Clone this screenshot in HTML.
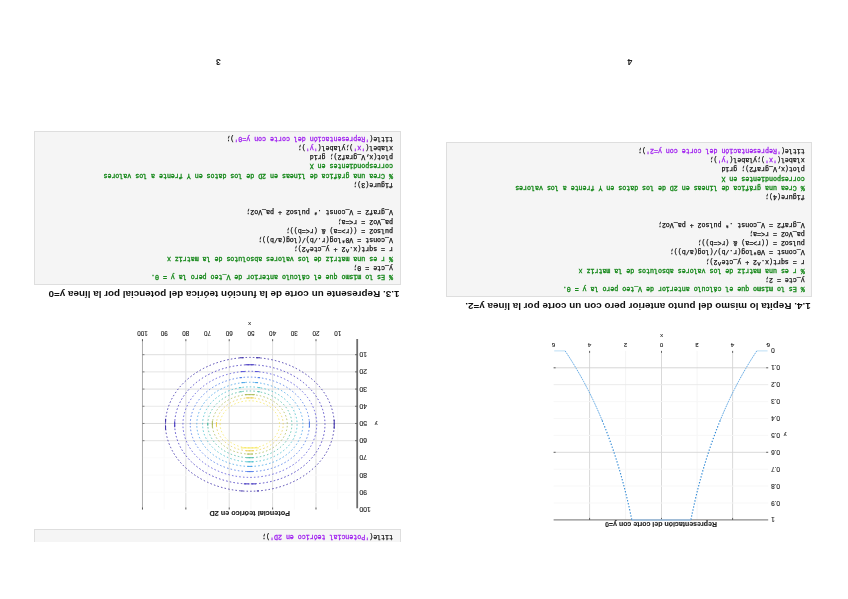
<!DOCTYPE html>
<html lang="es"><head><meta charset="utf-8"><title>Práctica</title>
<style>
html,body{margin:0;padding:0;background:#fff;}
body{width:848px;height:599px;overflow:hidden;position:relative;}
#wrap{position:absolute;left:0;top:0;width:848px;height:599px;transform:rotate(180deg);transform-origin:424px 299.5px;overflow:hidden;}
.abs{position:absolute;}
pre.code{position:absolute;margin:0;box-sizing:border-box;border:1px solid #dedede;background:#f5f5f5;
 font-family:"Liberation Mono",monospace;font-size:6.62px;line-height:9.22px;color:#111;-webkit-text-stroke:0.25px #111;padding:2.7px 0 0 6.6px;white-space:pre;overflow:hidden;}
pre.code .c{color:#1a8a1e;-webkit-text-stroke:0.34px #1a8a1e;}
pre.code .s{color:#a020f0;-webkit-text-stroke:0.28px #a020f0;}
h2{position:absolute;margin:0;font-family:"Liberation Sans",sans-serif;font-weight:bold;color:#111;white-space:nowrap;line-height:1;}
.pn{position:absolute;font-family:"Liberation Sans",sans-serif;font-weight:bold;font-size:8.6px;line-height:1;color:#222;}
svg{position:absolute;left:0;top:0;overflow:visible;}
svg text{font-family:"Liberation Sans",sans-serif;fill:#1c1c1c;stroke:#1c1c1c;stroke-width:0.12px;}
</style></head><body><div id="wrap">

<div class="pn" style="left:619.7px;top:533.3px;width:20px;text-align:center;">3</div>
<div class="pn" style="left:208.1px;top:533.3px;width:20px;text-align:center;">4</div>
<pre class="code" style="left:35.7px;top:302.0px;width:366.6px;height:154.5px;"><span class="c">% Es lo mismo que el cálculo anterior de V_teo pero la y = 0.</span>
y_cte = 2;
<span class="c">% r es una matriz de los valores absolutos de la matriz x</span>
r = sqrt(x.^2 + y_cte^2);
V_const = V0*log(r./b)/(log(a/b));
pulso2 = ((r&gt;=a) &amp; (r&lt;=b));
pa_Vo2 = r&lt;=a;
V_graf2 = V_const .* pulso2 + pa_Vo2;


figure(4);
<span class="c">% Crea una gráfica de líneas en 2D de los datos en Y frente a los valores</span>
<span class="c">correspondientes en X</span>
plot(x,V_graf2); grid
xlabel(<span class="s">'x'</span>);ylabel(<span class="s">'y'</span>);
title(<span class="s">'Representación del corte con y=2'</span>);</pre>
<pre class="code" style="left:447.4px;top:314.3px;width:366.9px;height:153.9px;"><span class="c">% Es lo mismo que el cálculo anterior de V_teo pero la y = 0.</span>
y_cte = 0;
<span class="c">% r es una matriz de los valores absolutos de la matriz x</span>
r = sqrt(x.^2 + y_cte^2);
V_const = V0*log(r./b)/(log(a/b));
pulso2 = ((r&gt;=a) &amp; (r&lt;=b));
pa_Vo2 = r&lt;=a;
V_graf2 = V_const .* pulso2 + pa_Vo2;


figure(3);
<span class="c">% Crea una gráfica de líneas en 2D de los datos en Y frente a los valores</span>
<span class="c">correspondientes en X</span>
plot(x,V_graf2); grid
xlabel(<span class="s">'x'</span>);ylabel(<span class="s">'y'</span>);
title(<span class="s">'Representación del corte con y=0'</span>);</pre>
<pre class="code" style="left:447.4px;top:56.9px;width:366.9px;height:13.5px;border-top:none;padding-top:1.2px;">title(<span class="s">'Potencial teórico en 2D'</span>);</pre>
<h2 style="left:37.3px;top:287.7px;font-size:9.90px;">1.4. Repita lo mismo del punto anterior pero con un corte por la línea y=2.</h2>
<h2 style="left:448.6px;top:299.9px;font-size:9.90px;">1.3. Represente un corte de la función teórica del potencial por la línea y=0</h2>
<svg width="848" height="599" viewBox="0 0 848 599">
<line x1="510.32" y1="259.80" x2="510.32" y2="89.52" stroke="#f7f7f7" stroke-width="0.80" />
<line x1="532.01" y1="259.80" x2="532.01" y2="89.52" stroke="#d6d6d6" stroke-width="0.80" />
<line x1="553.70" y1="259.80" x2="553.70" y2="89.52" stroke="#f7f7f7" stroke-width="0.80" />
<line x1="575.39" y1="259.80" x2="575.39" y2="89.52" stroke="#d6d6d6" stroke-width="0.80" />
<line x1="597.08" y1="259.80" x2="597.08" y2="89.52" stroke="#f7f7f7" stroke-width="0.80" />
<line x1="618.77" y1="259.80" x2="618.77" y2="89.52" stroke="#d6d6d6" stroke-width="0.80" />
<line x1="640.46" y1="259.80" x2="640.46" y2="89.52" stroke="#f7f7f7" stroke-width="0.80" />
<line x1="662.15" y1="259.80" x2="662.15" y2="89.52" stroke="#d6d6d6" stroke-width="0.80" />
<line x1="683.84" y1="259.80" x2="683.84" y2="89.52" stroke="#f7f7f7" stroke-width="0.80" />
<line x1="705.53" y1="259.80" x2="705.53" y2="89.52" stroke="#d6d6d6" stroke-width="0.80" />
<line x1="705.53" y1="244.32" x2="490.80" y2="244.32" stroke="#dadada" stroke-width="0.90" />
<line x1="705.53" y1="227.12" x2="490.80" y2="227.12" stroke="#e2e2e2" stroke-width="0.90" />
<line x1="705.53" y1="209.92" x2="490.80" y2="209.92" stroke="#dadada" stroke-width="0.90" />
<line x1="705.53" y1="192.72" x2="490.80" y2="192.72" stroke="#e6e6e6" stroke-width="0.90" />
<line x1="705.53" y1="175.52" x2="490.80" y2="175.52" stroke="#d6d6d6" stroke-width="0.90" />
<line x1="705.53" y1="158.32" x2="490.80" y2="158.32" stroke="#e0e0e0" stroke-width="0.90" />
<line x1="705.53" y1="141.12" x2="490.80" y2="141.12" stroke="#fafafa" stroke-width="0.90" />
<line x1="705.53" y1="123.92" x2="490.80" y2="123.92" stroke="#fafafa" stroke-width="0.90" />
<line x1="705.53" y1="106.72" x2="490.80" y2="106.72" stroke="#fafafa" stroke-width="0.90" />
<line x1="490.80" y1="260.00" x2="490.80" y2="90.72" stroke="#6e6e6e" stroke-width="1.80" />
<line x1="705.53" y1="259.80" x2="705.53" y2="89.52" stroke="#9a9a9a" stroke-width="0.70" />
<line x1="493.00" y1="244.32" x2="490.80" y2="244.32" stroke="#555" stroke-width="0.80" />
<line x1="705.53" y1="244.32" x2="703.53" y2="244.32" stroke="#555" stroke-width="0.70" />
<line x1="493.00" y1="227.12" x2="490.80" y2="227.12" stroke="#555" stroke-width="0.80" />
<line x1="705.53" y1="227.12" x2="703.53" y2="227.12" stroke="#555" stroke-width="0.70" />
<line x1="493.00" y1="209.92" x2="490.80" y2="209.92" stroke="#555" stroke-width="0.80" />
<line x1="705.53" y1="209.92" x2="703.53" y2="209.92" stroke="#555" stroke-width="0.70" />
<line x1="493.00" y1="192.72" x2="490.80" y2="192.72" stroke="#555" stroke-width="0.80" />
<line x1="705.53" y1="192.72" x2="703.53" y2="192.72" stroke="#555" stroke-width="0.70" />
<line x1="493.00" y1="175.52" x2="490.80" y2="175.52" stroke="#555" stroke-width="0.80" />
<line x1="705.53" y1="175.52" x2="703.53" y2="175.52" stroke="#555" stroke-width="0.70" />
<line x1="493.00" y1="158.32" x2="490.80" y2="158.32" stroke="#555" stroke-width="0.80" />
<line x1="705.53" y1="158.32" x2="703.53" y2="158.32" stroke="#555" stroke-width="0.70" />
<line x1="532.01" y1="259.80" x2="532.01" y2="257.80" stroke="#444" stroke-width="0.80" />
<line x1="532.01" y1="91.52" x2="532.01" y2="89.52" stroke="#444" stroke-width="0.80" />
<line x1="575.39" y1="259.80" x2="575.39" y2="257.80" stroke="#444" stroke-width="0.80" />
<line x1="575.39" y1="91.52" x2="575.39" y2="89.52" stroke="#444" stroke-width="0.80" />
<line x1="618.77" y1="259.80" x2="618.77" y2="257.80" stroke="#444" stroke-width="0.80" />
<line x1="618.77" y1="91.52" x2="618.77" y2="89.52" stroke="#444" stroke-width="0.80" />
<line x1="662.15" y1="259.80" x2="662.15" y2="257.80" stroke="#444" stroke-width="0.80" />
<line x1="662.15" y1="91.52" x2="662.15" y2="89.52" stroke="#444" stroke-width="0.80" />
<line x1="705.53" y1="259.80" x2="705.53" y2="257.80" stroke="#444" stroke-width="0.80" />
<line x1="705.53" y1="91.52" x2="705.53" y2="89.52" stroke="#444" stroke-width="0.80" />
<text x="510.32" y="266.00" font-size="6.30" text-anchor="middle" font-weight="normal" fill="#6a6a6a" dominant-baseline="central">10</text>
<text x="488.70" y="244.32" font-size="6.9" text-anchor="end" dominant-baseline="central">10</text>
<text x="532.01" y="266.00" font-size="6.30" text-anchor="middle" font-weight="normal" fill="#1c1c1c" dominant-baseline="central">20</text>
<text x="488.70" y="227.12" font-size="6.9" text-anchor="end" dominant-baseline="central">20</text>
<text x="553.70" y="266.00" font-size="6.30" text-anchor="middle" font-weight="normal" fill="#6a6a6a" dominant-baseline="central">30</text>
<text x="488.70" y="209.92" font-size="6.9" text-anchor="end" dominant-baseline="central">30</text>
<text x="575.39" y="266.00" font-size="6.30" text-anchor="middle" font-weight="normal" fill="#1c1c1c" dominant-baseline="central">40</text>
<text x="488.70" y="192.72" font-size="6.9" text-anchor="end" dominant-baseline="central">40</text>
<text x="597.08" y="266.00" font-size="6.30" text-anchor="middle" font-weight="normal" fill="#6a6a6a" dominant-baseline="central">50</text>
<text x="488.70" y="175.52" font-size="6.9" text-anchor="end" dominant-baseline="central">50</text>
<text x="618.77" y="266.00" font-size="6.30" text-anchor="middle" font-weight="normal" fill="#1c1c1c" dominant-baseline="central">60</text>
<text x="488.70" y="158.32" font-size="6.9" text-anchor="end" dominant-baseline="central">60</text>
<text x="640.46" y="266.00" font-size="6.30" text-anchor="middle" font-weight="normal" fill="#6a6a6a" dominant-baseline="central">70</text>
<text x="488.70" y="141.12" font-size="6.9" text-anchor="end" dominant-baseline="central">70</text>
<text x="662.15" y="266.00" font-size="6.30" text-anchor="middle" font-weight="normal" fill="#1c1c1c" dominant-baseline="central">80</text>
<text x="488.70" y="123.92" font-size="6.9" text-anchor="end" dominant-baseline="central">80</text>
<text x="683.84" y="266.00" font-size="6.30" text-anchor="middle" font-weight="normal" fill="#6a6a6a" dominant-baseline="central">90</text>
<text x="488.70" y="106.72" font-size="6.9" text-anchor="end" dominant-baseline="central">90</text>
<text x="705.53" y="266.00" font-size="6.30" text-anchor="middle" font-weight="normal" fill="#1c1c1c" dominant-baseline="central">100</text>
<text x="488.70" y="89.52" font-size="6.9" text-anchor="end" dominant-baseline="central">100</text>
<text x="598.40" y="274.80" font-size="5.60" text-anchor="middle" font-weight="normal" fill="#333" dominant-baseline="central">x</text>
<text x="472.00" y="175.10" font-size="5.60" text-anchor="middle" font-weight="normal" fill="#333" dominant-baseline="central">y</text>
<text x="598.30" y="86.00" font-size="7.30" text-anchor="middle" font-weight="bold" fill="#222" dominant-baseline="central">Potencial teórico en 2D</text>
<ellipse cx="598.17" cy="174.66" rx="84.37" ry="66.91" fill="none" stroke="#3d2fa8" stroke-width="0.9" stroke-dasharray="1.5 2.2" opacity="1.00"/>
<line x1="608.37" y1="241.25" x2="604.37" y2="241.25" stroke="#3d2fa8" stroke-width="1.05" opacity="1.00"/>
<line x1="591.97" y1="241.25" x2="587.97" y2="241.25" stroke="#3d2fa8" stroke-width="1.05" opacity="1.00"/>
<line x1="607.17" y1="108.05" x2="605.17" y2="108.05" stroke="#3d2fa8" stroke-width="1.05" opacity="1.00"/>
<line x1="591.17" y1="108.05" x2="589.17" y2="108.05" stroke="#3d2fa8" stroke-width="1.05" opacity="1.00"/>
<line x1="682.42" y1="180.16" x2="682.42" y2="176.16" stroke="#3d2fa8" stroke-width="1.05" opacity="1.00"/>
<line x1="682.42" y1="173.16" x2="682.42" y2="169.16" stroke="#3d2fa8" stroke-width="1.05" opacity="1.00"/>
<line x1="513.79" y1="179.16" x2="513.79" y2="170.16" stroke="#3d2fa8" stroke-width="1.05" opacity="1.00"/>
<ellipse cx="598.17" cy="174.66" rx="75.14" ry="59.58" fill="none" stroke="#4538c0" stroke-width="0.9" stroke-dasharray="1.5 2.2" opacity="1.00"/>
<line x1="602.67" y1="234.24" x2="593.67" y2="234.24" stroke="#4538c0" stroke-width="1.05" opacity="1.00"/>
<line x1="604.17" y1="115.14" x2="599.17" y2="115.14" stroke="#4538c0" stroke-width="1.05" opacity="1.00"/>
<line x1="597.17" y1="115.14" x2="592.17" y2="115.14" stroke="#4538c0" stroke-width="1.05" opacity="1.00"/>
<line x1="673.30" y1="177.66" x2="673.30" y2="171.66" stroke="#4538c0" stroke-width="1.05" opacity="1.00"/>
<ellipse cx="598.17" cy="174.66" rx="66.91" ry="53.06" fill="none" stroke="#5550d8" stroke-width="0.9" stroke-dasharray="1.5 2.2" opacity="0.95"/>
<line x1="607.17" y1="227.43" x2="603.17" y2="227.43" stroke="#5550d8" stroke-width="1.05" opacity="0.95"/>
<line x1="593.17" y1="227.43" x2="589.17" y2="227.43" stroke="#5550d8" stroke-width="1.05" opacity="0.95"/>
<ellipse cx="598.17" cy="174.66" rx="59.58" ry="47.25" fill="none" stroke="#4a78e8" stroke-width="0.9" stroke-dasharray="1.5 2.2" opacity="0.95"/>
<line x1="608.42" y1="221.37" x2="605.92" y2="221.37" stroke="#4a78e8" stroke-width="1.05" opacity="0.95"/>
<line x1="590.42" y1="221.37" x2="587.92" y2="221.37" stroke="#4a78e8" stroke-width="1.05" opacity="0.95"/>
<line x1="601.17" y1="127.41" x2="595.17" y2="127.41" stroke="#4a78e8" stroke-width="1.05" opacity="0.95"/>
<line x1="538.58" y1="177.66" x2="538.58" y2="171.66" stroke="#4a78e8" stroke-width="1.05" opacity="0.95"/>
<ellipse cx="598.17" cy="174.66" rx="53.06" ry="42.07" fill="none" stroke="#3fa0e8" stroke-width="0.9" stroke-dasharray="1.5 2.2" opacity="0.90"/>
<line x1="606.42" y1="216.42" x2="602.92" y2="216.42" stroke="#3fa0e8" stroke-width="1.05" opacity="0.90"/>
<line x1="593.42" y1="216.42" x2="589.92" y2="216.42" stroke="#3fa0e8" stroke-width="1.05" opacity="0.90"/>
<line x1="600.67" y1="132.59" x2="595.67" y2="132.59" stroke="#3fa0e8" stroke-width="1.05" opacity="0.90"/>
<ellipse cx="598.17" cy="174.66" rx="47.25" ry="37.47" fill="none" stroke="#35b8c8" stroke-width="0.9" stroke-dasharray="1.5 2.2" opacity="0.85"/>
<line x1="608.67" y1="211.36" x2="606.67" y2="211.36" stroke="#35b8c8" stroke-width="1.05" opacity="0.85"/>
<line x1="589.67" y1="211.36" x2="587.67" y2="211.36" stroke="#35b8c8" stroke-width="1.05" opacity="0.85"/>
<line x1="601.67" y1="137.19" x2="594.67" y2="137.19" stroke="#35b8c8" stroke-width="1.05" opacity="0.85"/>
<ellipse cx="598.17" cy="174.66" rx="42.07" ry="33.36" fill="none" stroke="#45b8a0" stroke-width="0.9" stroke-dasharray="1.5 2.2" opacity="0.90"/>
<line x1="608.17" y1="207.25" x2="606.17" y2="207.25" stroke="#45b8a0" stroke-width="1.05" opacity="0.90"/>
<line x1="590.17" y1="207.25" x2="588.17" y2="207.25" stroke="#45b8a0" stroke-width="1.05" opacity="0.90"/>
<line x1="601.67" y1="141.30" x2="594.67" y2="141.30" stroke="#45b8a0" stroke-width="1.05" opacity="0.90"/>
<line x1="640.24" y1="176.16" x2="640.24" y2="173.16" stroke="#45b8a0" stroke-width="1.05" opacity="0.90"/>
<ellipse cx="598.17" cy="174.66" rx="37.47" ry="29.71" fill="none" stroke="#a8b850" stroke-width="0.9" stroke-dasharray="1.5 2.2" opacity="0.90"/>
<line x1="603.17" y1="204.37" x2="593.17" y2="204.37" stroke="#a8b850" stroke-width="1.05" opacity="0.90"/>
<line x1="601.17" y1="144.95" x2="595.17" y2="144.95" stroke="#a8b850" stroke-width="1.05" opacity="0.90"/>
<line x1="635.63" y1="177.91" x2="635.63" y2="171.41" stroke="#a8b850" stroke-width="1.05" opacity="0.90"/>
<ellipse cx="598.17" cy="174.66" rx="33.36" ry="26.46" fill="none" stroke="#e8c838" stroke-width="0.9" stroke-dasharray="1.5 2.2" opacity="0.80"/>
<line x1="602.17" y1="201.12" x2="594.17" y2="201.12" stroke="#e8c838" stroke-width="1.05" opacity="0.80"/>
<line x1="602.17" y1="148.20" x2="594.17" y2="148.20" stroke="#e8c838" stroke-width="1.05" opacity="0.80"/>
<line x1="631.53" y1="176.91" x2="631.53" y2="172.41" stroke="#e8c838" stroke-width="1.05" opacity="0.80"/>
<ellipse cx="598.17" cy="174.66" rx="29.71" ry="23.56" fill="none" stroke="#f4e030" stroke-width="0.9" stroke-dasharray="1.5 2.2" opacity="0.70"/>
<line x1="607.17" y1="151.10" x2="589.17" y2="151.10" stroke="#f4e030" stroke-width="1.05" opacity="0.70"/>
<line x1="258.42" y1="248.10" x2="258.42" y2="79.10" stroke="#cfcfcf" stroke-width="0.80" />
<line x1="186.50" y1="248.10" x2="186.50" y2="79.10" stroke="#cfcfcf" stroke-width="0.80" />
<line x1="115.38" y1="248.10" x2="115.38" y2="79.10" stroke="#cfcfcf" stroke-width="0.80" />
<line x1="222.46" y1="248.10" x2="222.46" y2="79.10" stroke="#f1f1f1" stroke-width="0.80" />
<line x1="150.94" y1="248.10" x2="150.94" y2="79.10" stroke="#f1f1f1" stroke-width="0.80" />
<line x1="294.38" y1="231.20" x2="79.82" y2="231.20" stroke="#d2d2d2" stroke-width="0.90" />
<line x1="294.38" y1="214.30" x2="79.82" y2="214.30" stroke="#e9e9e9" stroke-width="0.90" />
<line x1="294.38" y1="146.70" x2="79.82" y2="146.70" stroke="#d6d6d6" stroke-width="0.90" />
<line x1="294.38" y1="197.40" x2="79.82" y2="197.40" stroke="#f6f6f6" stroke-width="0.90" />
<line x1="294.38" y1="180.50" x2="79.82" y2="180.50" stroke="#f6f6f6" stroke-width="0.90" />
<line x1="294.38" y1="163.60" x2="79.82" y2="163.60" stroke="#f6f6f6" stroke-width="0.90" />
<line x1="294.38" y1="129.80" x2="79.82" y2="129.80" stroke="#f6f6f6" stroke-width="0.90" />
<line x1="294.38" y1="112.90" x2="79.82" y2="112.90" stroke="#f6f6f6" stroke-width="0.90" />
<line x1="294.38" y1="96.00" x2="79.82" y2="96.00" stroke="#f6f6f6" stroke-width="0.90" />
<line x1="294.38" y1="79.10" x2="79.82" y2="79.10" stroke="#8c8c8c" stroke-width="1.30" />
<line x1="258.42" y1="248.10" x2="258.42" y2="246.10" stroke="#444" stroke-width="0.80" />
<line x1="258.42" y1="81.10" x2="258.42" y2="79.10" stroke="#444" stroke-width="0.80" />
<line x1="186.50" y1="248.10" x2="186.50" y2="246.10" stroke="#444" stroke-width="0.80" />
<line x1="186.50" y1="81.10" x2="186.50" y2="79.10" stroke="#444" stroke-width="0.80" />
<line x1="115.38" y1="248.10" x2="115.38" y2="246.10" stroke="#444" stroke-width="0.80" />
<line x1="115.38" y1="81.10" x2="115.38" y2="79.10" stroke="#444" stroke-width="0.80" />
<line x1="294.38" y1="231.20" x2="292.38" y2="231.20" stroke="#444" stroke-width="0.80" />
<line x1="81.82" y1="231.20" x2="79.82" y2="231.20" stroke="#444" stroke-width="0.80" />
<line x1="294.38" y1="146.70" x2="292.38" y2="146.70" stroke="#444" stroke-width="0.80" />
<line x1="81.82" y1="146.70" x2="79.82" y2="146.70" stroke="#444" stroke-width="0.80" />
<text x="294.38" y="254.00" font-size="6.20" text-anchor="middle" font-weight="normal" fill="#1c1c1c" dominant-baseline="central">6</text>
<text x="258.42" y="254.00" font-size="6.20" text-anchor="middle" font-weight="normal" fill="#1c1c1c" dominant-baseline="central">4</text>
<text x="222.46" y="254.00" font-size="6.20" text-anchor="middle" font-weight="normal" fill="#1c1c1c" dominant-baseline="central">2</text>
<text x="186.50" y="254.00" font-size="6.20" text-anchor="middle" font-weight="normal" fill="#1c1c1c" dominant-baseline="central">0</text>
<text x="150.94" y="254.00" font-size="6.20" text-anchor="middle" font-weight="normal" fill="#1c1c1c" dominant-baseline="central">2</text>
<text x="152.84" y="254.00" font-size="6.2" text-anchor="end" fill="#e4e4e4" dominant-baseline="central">-</text>
<text x="115.38" y="254.00" font-size="6.20" text-anchor="middle" font-weight="normal" fill="#1c1c1c" dominant-baseline="central">4</text>
<text x="117.28" y="254.00" font-size="6.2" text-anchor="end" fill="#e4e4e4" dominant-baseline="central">-</text>
<text x="79.82" y="254.00" font-size="6.20" text-anchor="middle" font-weight="normal" fill="#1c1c1c" dominant-baseline="central">6</text>
<text x="81.72" y="254.00" font-size="6.2" text-anchor="end" fill="#e4e4e4" dominant-baseline="central">-</text>
<text x="77.00" y="248.10" font-size="6.5" text-anchor="end" dominant-baseline="central">0</text>
<text x="77.00" y="231.20" font-size="6.5" text-anchor="end" dominant-baseline="central">0.1</text>
<text x="77.00" y="214.30" font-size="6.5" text-anchor="end" dominant-baseline="central">0.2</text>
<text x="77.00" y="197.40" font-size="6.5" text-anchor="end" dominant-baseline="central">0.3</text>
<text x="77.00" y="180.50" font-size="6.5" text-anchor="end" dominant-baseline="central">0.4</text>
<text x="77.00" y="163.60" font-size="6.5" text-anchor="end" dominant-baseline="central">0.5</text>
<text x="77.00" y="146.70" font-size="6.5" text-anchor="end" dominant-baseline="central">0.6</text>
<text x="77.00" y="129.80" font-size="6.5" text-anchor="end" dominant-baseline="central">0.7</text>
<text x="77.00" y="112.90" font-size="6.5" text-anchor="end" dominant-baseline="central">0.8</text>
<text x="77.00" y="96.00" font-size="6.5" text-anchor="end" dominant-baseline="central">0.9</text>
<text x="77.00" y="79.10" font-size="6.5" text-anchor="end" dominant-baseline="central">1</text>
<text x="186.50" y="263.50" font-size="5.60" text-anchor="middle" font-weight="normal" fill="#333" dominant-baseline="central">x</text>
<text x="63.00" y="164.00" font-size="5.60" text-anchor="middle" font-weight="normal" fill="#333" dominant-baseline="central">y</text>
<text x="187.00" y="75.00" font-size="7.00" text-anchor="middle" font-weight="bold" fill="#222" dominant-baseline="central">Representación del corte con y=0</text>
<polyline points="282.87,248.10 281.95,246.72 281.02,245.32 280.09,243.90 279.17,242.48 278.24,241.04 277.32,239.58 276.39,238.11 275.47,236.63 274.54,235.13 273.61,233.61 272.69,232.08 271.76,230.53 270.84,228.96 269.91,227.38 268.98,225.78 268.06,224.16 267.13,222.52 266.21,220.86 265.28,219.19 264.35,217.49 263.43,215.77 262.50,214.04 261.58,212.28 260.65,210.50 259.72,208.70 258.80,206.87 257.87,205.02 256.95,203.15 256.02,201.25 255.09,199.33 254.17,197.38 253.24,195.40 252.32,193.40 251.39,191.36 250.46,189.30 249.54,187.21 248.61,185.09 247.69,182.93 246.76,180.75 245.83,178.53" fill="none" stroke="#4a9ade" stroke-width="0.95" stroke-dasharray="1.7 0.8" opacity="0.9"/>
<polyline points="245.83,178.53 245.09,176.72 244.35,174.89 243.61,173.04 242.87,171.17 242.13,169.27 241.38,167.34 240.64,165.39 239.90,163.41 239.16,161.41 238.42,159.37 237.68,157.31 236.93,155.21 236.19,153.09 235.45,150.93 234.71,148.74 233.97,146.52 233.23,144.26 232.48,141.96 231.74,139.63 231.00,137.26 230.26,134.85 229.52,132.40 228.78,129.90 228.03,127.36 227.29,124.78 226.55,122.15 225.81,119.47 225.07,116.73 224.33,113.95 223.58,111.11 222.84,108.21 222.10,105.25 221.36,102.23 220.62,99.15 219.88,95.99 219.13,92.77 218.39,89.47 217.65,86.10 216.91,82.64 216.17,79.10" fill="none" stroke="#2a86d4" stroke-width="1.15" stroke-dasharray="1.3 1.8"/>
<line x1="293.78" y1="248.10" x2="282.87" y2="248.10" stroke="#bcdff5" stroke-width="1.00" />
<polyline points="91.20,248.10 92.11,246.72 93.03,245.32 93.95,243.90 94.86,242.48 95.78,241.04 96.69,239.58 97.61,238.11 98.52,236.63 99.44,235.13 100.36,233.61 101.27,232.08 102.19,230.53 103.10,228.96 104.02,227.38 104.93,225.78 105.85,224.16 106.77,222.52 107.68,220.86 108.60,219.19 109.51,217.49 110.43,215.77 111.34,214.04 112.26,212.28 113.18,210.50 114.09,208.70 115.01,206.87 115.92,205.02 116.84,203.15 117.75,201.25 118.67,199.33 119.58,197.38 120.50,195.40 121.42,193.40 122.33,191.36 123.25,189.30 124.16,187.21 125.08,185.09 125.99,182.93 126.91,180.75 127.83,178.53" fill="none" stroke="#4a9ade" stroke-width="0.95" stroke-dasharray="1.7 0.8" opacity="0.9"/>
<polyline points="127.83,178.53 128.56,176.72 129.29,174.89 130.03,173.04 130.76,171.17 131.49,169.27 132.23,167.34 132.96,165.39 133.69,163.41 134.43,161.41 135.16,159.37 135.89,157.31 136.63,155.21 137.36,153.09 138.09,150.93 138.83,148.74 139.56,146.52 140.29,144.26 141.03,141.96 141.76,139.63 142.49,137.26 143.23,134.85 143.96,132.40 144.69,129.90 145.43,127.36 146.16,124.78 146.90,122.15 147.63,119.47 148.36,116.73 149.10,113.95 149.83,111.11 150.56,108.21 151.30,105.25 152.03,102.23 152.76,99.15 153.50,95.99 154.23,92.77 154.96,89.47 155.70,86.10 156.43,82.64 157.16,79.10" fill="none" stroke="#2a86d4" stroke-width="1.15" stroke-dasharray="1.3 1.8"/>
<line x1="80.42" y1="248.10" x2="91.20" y2="248.10" stroke="#bcdff5" stroke-width="1.00" />
<line x1="216.17" y1="79.10" x2="157.16" y2="79.10" stroke="#9fc3e6" stroke-width="1.50" />
</svg>
</div></body></html>
